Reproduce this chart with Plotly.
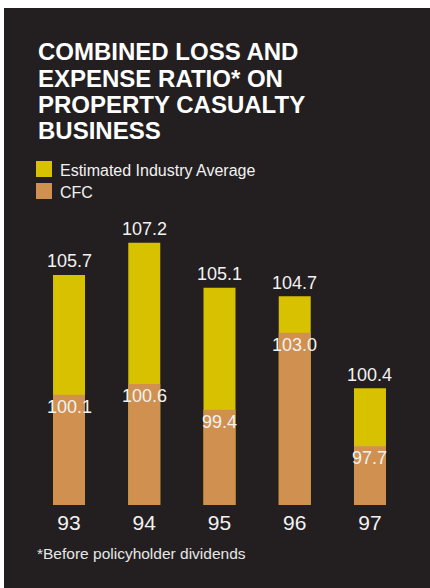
import plotly.graph_objects as go

# Data
years = ["93", "94", "95", "96", "97"]
industry_avg = [105.7, 107.2, 105.1, 104.7, 100.4]
cfc = [100.1, 100.6, 99.4, 103.0, 97.7]

title_lines = ["COMBINED LOSS AND", "EXPENSE RATIO* ON", "PROPERTY CASUALTY", "BUSINESS"]
legend_labels = ["Estimated Industry Average", "CFC"]
footnote = "*Before policyholder dividends"

# Styling
W, H = 430, 588
BG = "#231f20"
YELLOW = "#d8c200"
ORANGE = "#d09050"
FONT = "Liberation Sans, Arial, Helvetica, sans-serif"
TXT = "#f2f2f2"


def px_x(p):
    return p / W


def px_y(p):
    return 1 - p / H


fig = go.Figure()

# Industry average bars sit behind, CFC bars drawn on top of them
fig.add_trace(go.Bar(x=years, y=industry_avg, marker=dict(color=YELLOW, line_width=0),
                     width=0.425, name=legend_labels[0], hoverinfo="x+y"))
fig.add_trace(go.Bar(x=years, y=cfc, marker=dict(color=ORANGE, line_width=0),
                     width=0.425, name=legend_labels[1], hoverinfo="x+y"))

annotations = []
# Value labels (x given as category index)
for i, v in enumerate(industry_avg):
    annotations.append(dict(x=i, y=v, xref="x", yref="y", text=f"{v:.1f}",
                            showarrow=False, yanchor="middle", yshift=13.5,
                            font=dict(family=FONT, size=18, color=TXT)))
for i, v in enumerate(cfc):
    annotations.append(dict(x=i, y=v, xref="x", yref="y", text=f"{v:.1f}",
                            showarrow=False, yanchor="middle", yshift=-12,
                            font=dict(family=FONT, size=18, color=TXT)))

# Title, one line per annotation for tight leading
for i, line in enumerate(title_lines):
    annotations.append(dict(x=px_x(36), y=px_y(52 + 26.3 * i), xref="paper", yref="paper",
                            xanchor="left", yanchor="middle", showarrow=False, text=f"<b>{line}</b>",
                            font=dict(family=FONT, size=24, color="#ffffff")))

# Legend entries
shapes = [dict(type="rect", xref="paper", yref="paper", x0=px_x(4), x1=1, y0=0, y1=px_y(8),
               fillcolor=BG, line_width=0, layer="below")]
for i, (lab, col) in enumerate(zip(legend_labels, [YELLOW, ORANGE])):
    cy = 169 + 22 * i
    shapes.append(dict(type="rect", xref="paper", yref="paper",
                       x0=px_x(36), x1=px_x(52), y0=px_y(cy - 8), y1=px_y(cy + 8),
                       fillcolor=col, line_width=0))
    annotations.append(dict(x=px_x(58), y=px_y(cy + 1.5), xref="paper", yref="paper",
                            xanchor="left", yanchor="middle", showarrow=False, text=lab,
                            font=dict(family=FONT, size=16, color=TXT)))

# Footnote
annotations.append(dict(x=px_x(35), y=px_y(553), xref="paper", yref="paper",
                        xanchor="left", yanchor="middle", showarrow=False, text=footnote,
                        font=dict(family=FONT, size=15.5, color="#e6e6e6")))

fig.update_layout(
    width=W, height=H,
    margin=dict(l=0, r=0, t=0, b=0),
    paper_bgcolor="#ffffff",
    plot_bgcolor="rgba(0,0,0,0)",
    barmode="overlay",
    showlegend=False,
    shapes=shapes,
    annotations=annotations,
    xaxis=dict(domain=[px_x(31.4), px_x(407.6)], type="category", range=[-0.5, 4.5],
               showgrid=False, zeroline=False, showline=False, ticks="",
               tickfont=dict(family=FONT, size=21, color=TXT), ticklabelstandoff=3),
    yaxis=dict(domain=[px_y(505), px_y(200)], range=[94.95, 109.2],
               showgrid=False, zeroline=False, showline=False, showticklabels=False, ticks=""),
)

fig.write_html("out.html")
